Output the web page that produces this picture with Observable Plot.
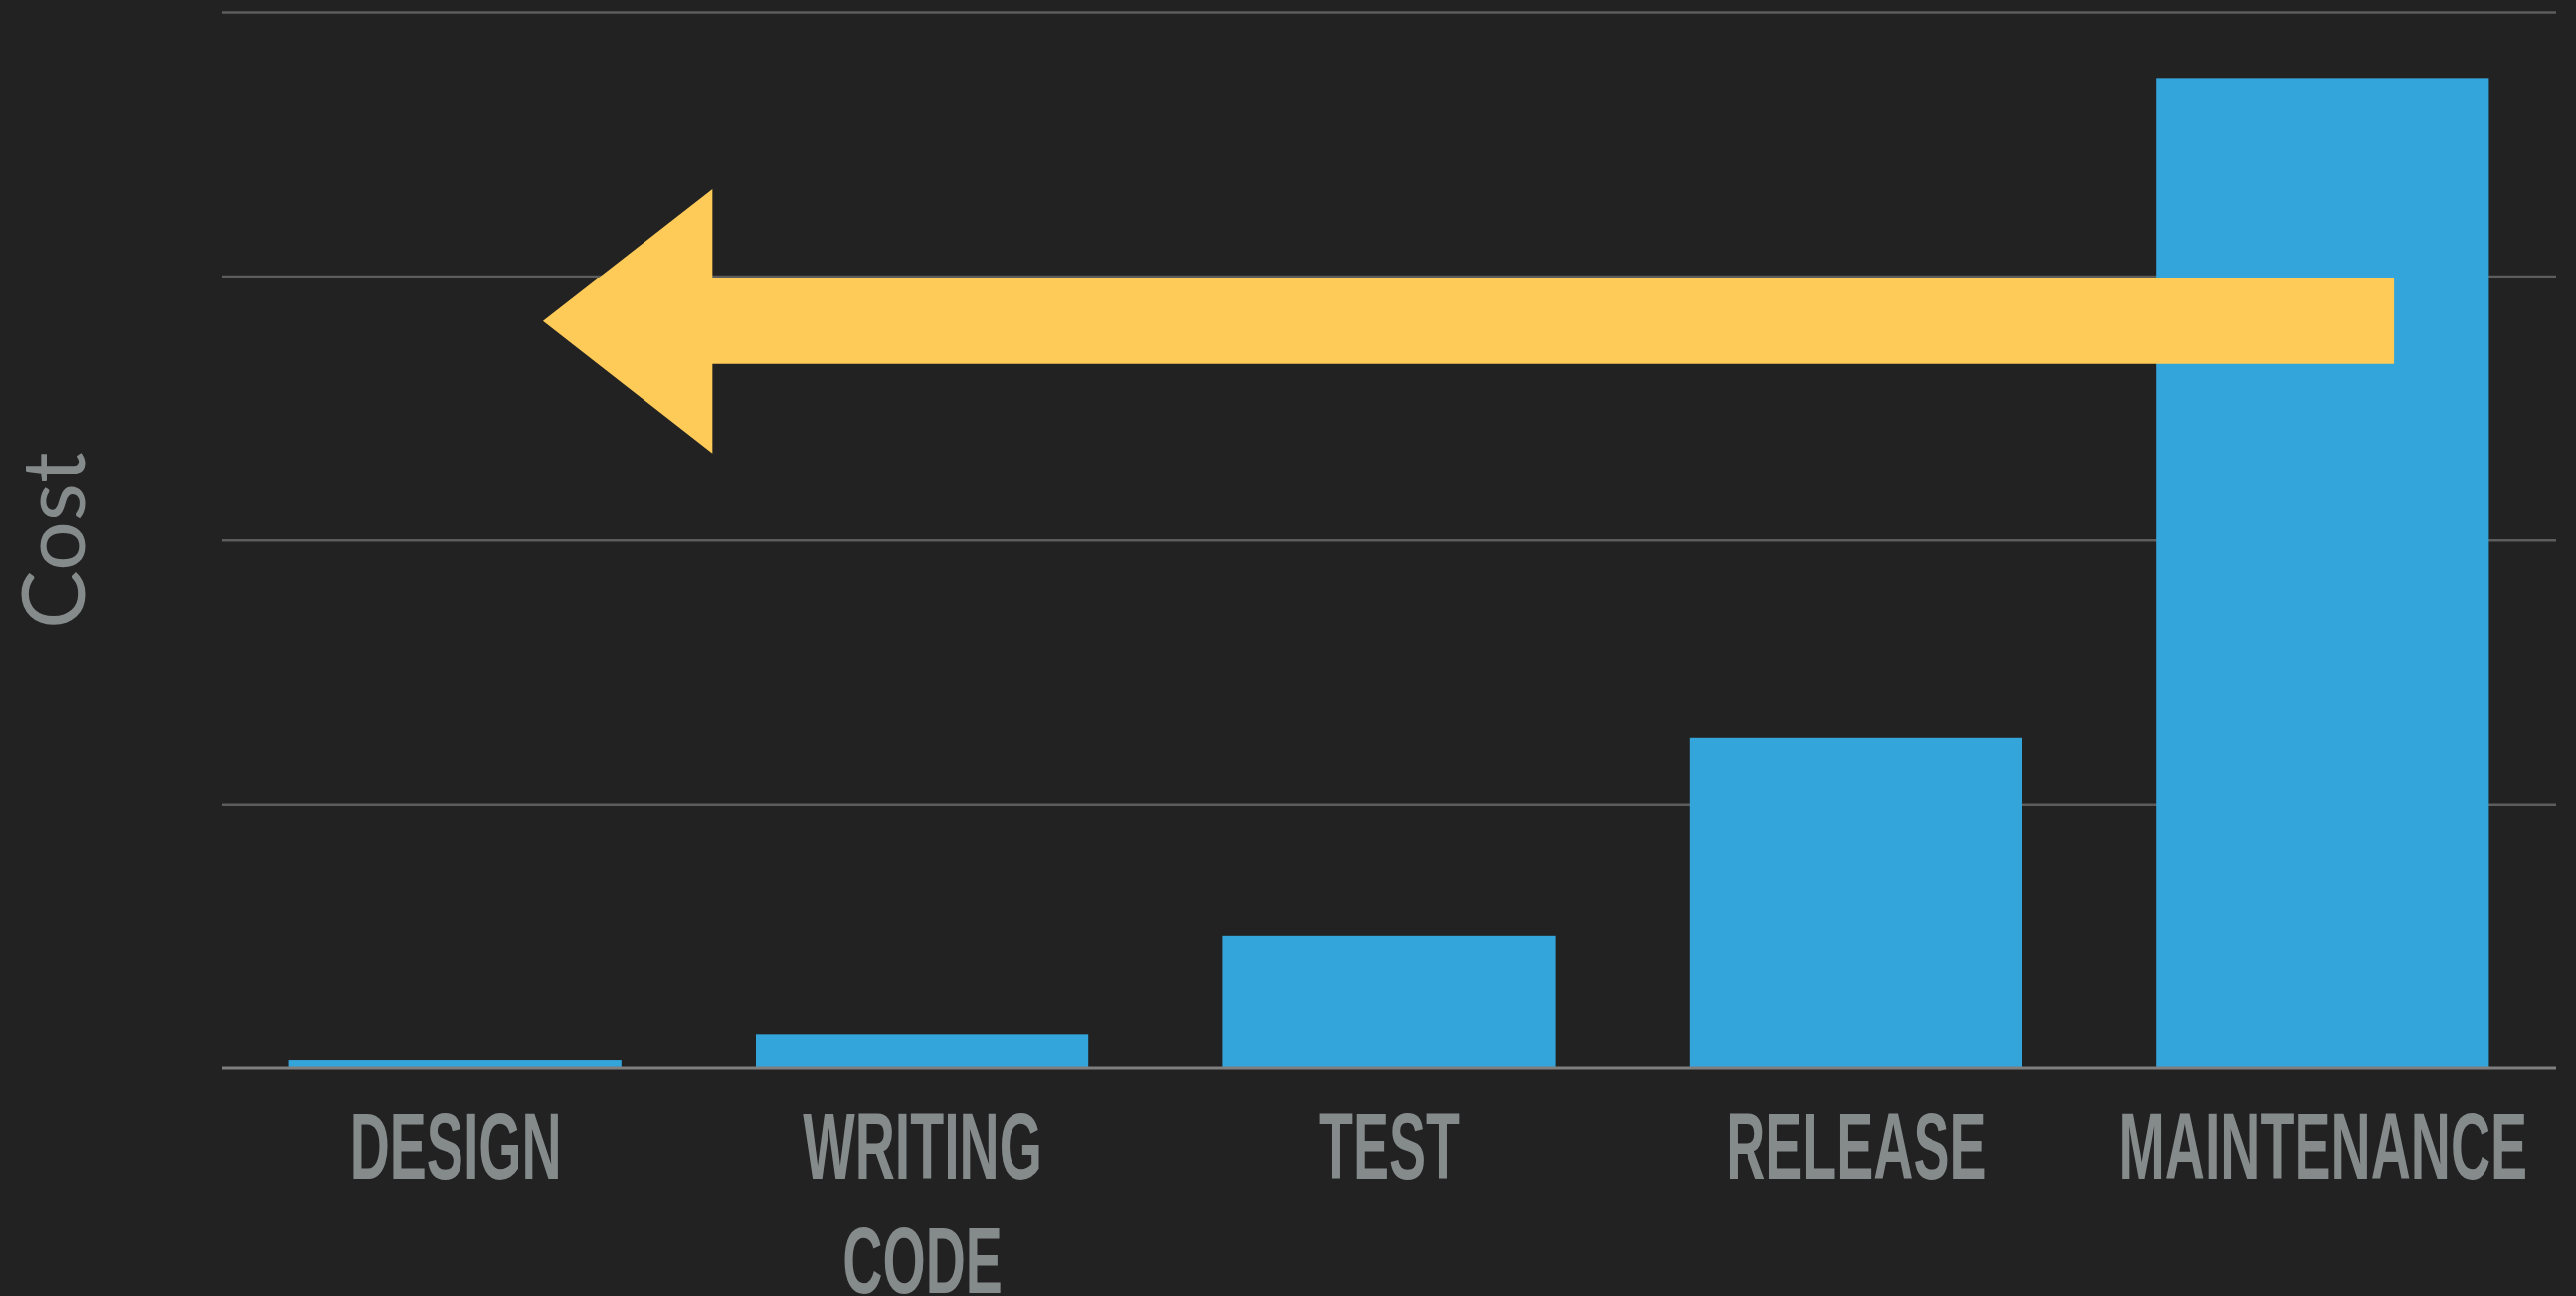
<!DOCTYPE html>
<html>
<head>
<meta charset="utf-8">
<script src="https://cdn.jsdelivr.net/npm/d3@7"></script>
<script src="https://cdn.jsdelivr.net/npm/@observablehq/plot@0.6"></script>
<style>
  html, body { margin: 0; padding: 0; background: #222222; }
  #chart { width: 2590px; height: 1303px; overflow: hidden; }
</style>
</head>
<body>
<div id="chart"></div>
<script>
// Categories (x) and relative cost values (y)
const categories = ["DESIGN", "WRITING\nCODE", "TEST", "RELEASE", "MAINTENANCE"];
const costs = [0.028, 0.125, 0.5, 1.25, 3.75];
// Gridline values on the cost axis (no tick labels in the original)
const gridValues = [1, 2, 3, 4];
// Block arrow annotation (x in category-index units, y in cost units)
const arrowX = [0.188, 0.551, 0.551, 4.153];
const arrowTop = [2.829, 3.329, 2.993, 2.993];
const arrowBottom = [2.829, 2.328, 2.667, 2.667];

const barHalf = 0.356;
const bars = categories.map((c, i) => ({i, name: c, cost: costs[i]}));
const arrow = arrowX.map((x, k) => ({x, y1: arrowBottom[k], y2: arrowTop[k]}));

const plot = Plot.plot({
  width: 2590,
  height: 1303,
  marginTop: 12,
  marginBottom: 229.5,
  marginLeft: 223,
  marginRight: 20,
  style: {background: "#222222", color: "#858a8b", overflow: "visible"},
  x: {type: "linear", domain: [-0.5, 4.5]},
  y: {domain: [0, 4]},
  marks: [
    Plot.ruleY(gridValues, {stroke: "#5d5d5d", strokeWidth: 2.5}),
    Plot.rectY(bars, {x1: d => d.i - barHalf, x2: d => d.i + barHalf, y: "cost", fill: "#34a5db"}),
    Plot.ruleY([0], {stroke: "#7f7f7f", strokeWidth: 3}),
    Plot.areaY(arrow, {x: "x", y1: "y1", y2: "y2", fill: "#fecb58", curve: "linear"}),
    Plot.axisX({
      ticks: categories.map((c, i) => i),
      tickFormat: i => categories[i],
      tickSize: 0,
      tickPadding: 29,
      fontSize: 95,
      fontFamily: "Liberation Sans, Arial, sans-serif",
      fontWeight: "bold",
      lineHeight: 1.21,
      fill: "#858a8b",
      label: null
    }),
    Plot.axisY({
      ticks: [],
      tickSize: 0,
      label: "Cost",
      labelAnchor: "center",
      labelArrow: "none",
      labelOffset: 201,
      fontSize: 88,
      fontFamily: "Lato, 'Open Sans', sans-serif",
      fontWeight: 400,
      fill: "#858a8b"
    })
  ]
});

document.getElementById("chart").appendChild(plot);

// Condense the category labels horizontally (the original uses a condensed face)
d3.select(plot).selectAll('g[aria-label="x-axis tick label"] text').each(function () {
  const t = this.getAttribute("transform");
  if (t) this.setAttribute("transform", t + " scale(0.585,1)");
});
</script>
</body>
</html>
